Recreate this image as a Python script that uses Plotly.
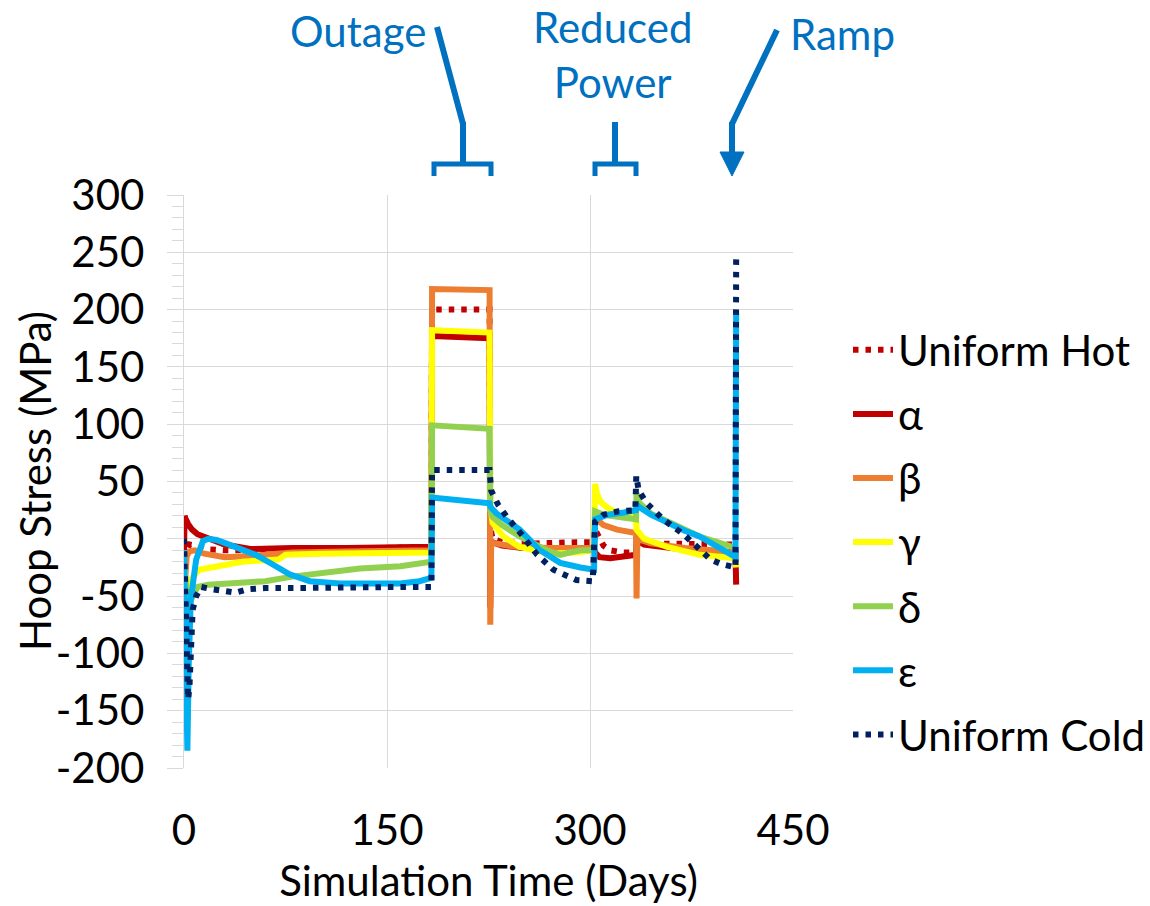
import plotly.graph_objects as go

# ---- Hoop stress histories (days, MPa) ----
hot_t = [0, 1, 2, 4, 8, 15, 30, 60, 100, 150, 182.8, 183.3, 225.8, 226.3, 228, 235, 260, 290, 303, 303.8,
         306, 310, 315, 325, 334, 334.5, 340, 370, 400, 407.5, 408]
hot_v = [0, -20, -10, -5, -6, -9, -10, -10, -9, -8, -7, 200, 200, 10, 0, -3, -4, -3, -3, 8,
         2, -6, -10, -12, -12, -3, -4, -5, -5, -5, -5]

alpha_t = [0, 0.5, 1, 3, 6, 10, 18, 30, 50, 80, 120, 160, 182.8, 183.3, 225.8, 226.3, 226.8, 228, 235, 250,
           280, 303, 303.8, 307, 315, 325, 334, 334.5, 340, 360, 390, 407.5, 408]
alpha_v = [-10, 20, 18, 13, 8, 4, 0, -5, -9, -8, -8, -7, -7, 177, 175, -60, -2, -3, -6, -8,
           -8, -8, -12, -16, -17, -16, -14, -1, -5, -8, -10, -12, -40]

beta_t = [0, 1, 2, 4, 8, 15, 30, 50, 80, 120, 160, 182.8, 183.3, 225.8, 226.3, 227, 230, 245, 270, 303,
          303.8, 310, 320, 334, 334.4, 335, 345, 370, 400, 408]
beta_v = [-50, -30, -15, -11, -10, -13, -16, -15, -12, -11, -10, -10, 218, 217, -75, -3, -4, -7, -8, -8,
          18, 12, 8, 5, -52, 0, -4, -8, -11, -13]

gamma_t = [0, 1.5, 3, 5, 11, 23, 43, 70, 75, 100, 140, 182.8, 183.3, 225.8, 226.3, 228, 236, 248, 270, 290,
           303, 303.8, 305, 308, 313, 320, 334, 334.4, 340, 357, 381, 407.5, 408]
gamma_v = [-30, -65, -50, -36, -27, -24, -20, -18, -14, -13, -12, -12, 182, 180, 30, 14, 2, -7, -13, -12,
           -10, 48, 40, 32, 27, 23, 20, 8, 0, -7, -14, -17, -25]

delta_t = [0, 3, 6.4, 10, 18, 40, 60, 80, 100, 130, 160, 175, 182.8, 183.3, 225.8, 226.3, 228, 235, 248, 268,
           278, 285, 293, 303, 303.8, 310, 320, 334, 334.4, 336, 345, 357, 381, 407.5]
delta_v = [-20, -60, -50, -42, -40, -39, -37, -33, -30, -26, -24, -22, -20, 99, 96, 25, 19, 12, 2, -10,
           -14, -12, -10, -10, 24, 21, 19, 17, 40, 32, 22, 15, 2, -8]

eps_t = [0, 1, 2.5, 3.5, 5, 9, 14, 18, 24, 31, 42, 53, 65, 78, 93, 115, 160, 174, 182.8, 183.3, 225.8, 226.3,
         231, 248, 263, 278, 293, 303, 303.8, 313, 325, 334, 334.5, 336, 345, 357, 370, 381, 395, 407.5, 408]
eps_v = [-10, -100, -185, -110, -53, -18, -2, 0, -1, -4, -9, -14, -22, -31, -37, -39, -39, -37, -34, 36, 31, 28,
         22, 8, -10, -21, -25, -27, 17, 21, 23, 25, 30, 28, 21, 14, 7, 2, -7, -16, 197]

cold_t = [0, 1, 2, 3, 4, 5, 6.4, 9, 12.6, 21, 30, 38, 47, 60, 80, 120, 160, 182.8, 183.3, 225.8,
          226.3, 227, 232, 238.6, 250, 261, 273, 290, 302, 303.8, 310, 321, 333.5, 334.2, 336, 342, 354, 369,
          380, 389, 397, 407.5, 408]
cold_v = [0, -40, -90, -140, -130, -100, -62, -50, -42, -44, -46, -47, -44, -43, -43, -42, -42, -42, 60, 60,
          50, 42, 30, 19, 3, -14, -27, -36, -37, 15, 21, 24, 25, 55, 42, 31, 17, 4,
          -8, -18, -22, -25, 248]

series_names = ["Uniform Hot", "α", "β", "γ", "δ", "ε", "Uniform Cold"]
series_t = [hot_t, alpha_t, beta_t, gamma_t, delta_t, eps_t, cold_t]
series_v = [hot_v, alpha_v, beta_v, gamma_v, delta_v, eps_v, cold_v]
series_colors = ["#C00000", "#C00000", "#ED7D31", "#FFFF00", "#92D050", "#00B0F0", "#002060"]
series_dotted = [True, False, False, False, False, False, True]

y_ticks = [-200, -150, -100, -50, 0, 50, 100, 150, 200, 250, 300]
y_ticktext = ["-200", "-150", "-100", "-50", "0", "50", "100", "150", "200", "250", "300"]
x_ticks = [0, 150, 300, 450]
x_ticktext = ["0", "150", "300", "450"]

FONT = "Lato"
FS = 42
BLUE = "#0070C0"
GRID = "#D9D9D9"

# plot-area edges in pixels
W, H = 1150, 906
L, R, T, B = 184, 793, 195, 768


def px(xp):
    return (xp - L) / (R - L)


def py(yp):
    return (B - yp) / (B - T)


fig = go.Figure()
for i, name in enumerate(series_names):
    dotted = series_dotted[i]
    fig.add_trace(go.Scatter(
        x=series_t[i], y=series_v[i], mode="lines", name=name,
        legendgroup=name,
        line=dict(color=series_colors[i], width=6,
                  dash="5.5px,7px" if dotted else "solid"),
        hoverinfo="x+y+name",
    ))

# event brackets and arrows above the plot
shapes = []
line_style = dict(color=BLUE, width=6)
# Outage
shapes.append(dict(type="line", xref="paper", yref="paper",
                   x0=px(437), y0=py(27), x1=px(463), y1=py(124), line=line_style))
shapes.append(dict(type="line", xref="paper", yref="paper",
                   x0=px(463), y0=py(122), x1=px(463), y1=py(165), line=line_style))
shapes.append(dict(type="path", xref="paper", yref="paper",
                   path=f"M {px(434)} {py(176)} L {px(434)} {py(164)} L {px(491)} {py(164)} L {px(491)} {py(176)}",
                   line=dict(color=BLUE, width=5)))
# Reduced power
shapes.append(dict(type="line", xref="paper", yref="paper",
                   x0=px(615), y0=py(122), x1=px(615), y1=py(165), line=line_style))
shapes.append(dict(type="path", xref="paper", yref="paper",
                   path=f"M {px(595)} {py(176)} L {px(595)} {py(164)} L {px(636)} {py(164)} L {px(636)} {py(176)}",
                   line=dict(color=BLUE, width=5)))
# Ramp arrow
shapes.append(dict(type="line", xref="paper", yref="paper",
                   x0=px(777), y0=py(30), x1=px(732), y1=py(124), line=line_style))
shapes.append(dict(type="line", xref="paper", yref="paper",
                   x0=px(732), y0=py(122), x1=px(732), y1=py(156), line=line_style))
shapes.append(dict(type="path", xref="paper", yref="paper",
                   path=f"M {px(720)} {py(152)} L {px(744)} {py(152)} L {px(732)} {py(176)} Z",
                   fillcolor=BLUE, line=dict(color=BLUE, width=1)))


def label(text, xp, yp, color=BLUE, angle=0):
    return dict(text=text, x=px(xp), y=py(yp), xref="paper", yref="paper", showarrow=False,
                xanchor="center", yanchor="middle", textangle=angle,
                font=dict(family=FONT, size=FS, color=color))


annotations = [
    label("Outage", 358, 31),
    label("Reduced<br>Power", 612, 55),
    label("Ramp", 843, 34),
    label("Hoop Stress (MPa)", 35, 481, color="black", angle=-90),
]

fig.update_layout(
    width=W, height=H,
    margin=dict(l=L, r=W - R, t=T, b=H - B, autoexpand=False),
    paper_bgcolor="white", plot_bgcolor="white",
    font=dict(family=FONT, size=FS, color="black"),
    shapes=shapes, annotations=annotations,
    showlegend=True,
    legend=dict(x=px(848), y=py(316), xanchor="left", yanchor="top",
                font=dict(family=FONT, size=FS), tracegroupgap=6.5,
                bgcolor="rgba(0,0,0,0)", itemwidth=40),
    xaxis=dict(range=[0, 450], tickvals=x_ticks, ticktext=x_ticktext,
               showgrid=True, gridcolor=GRID, gridwidth=1.3, zeroline=False,
               showline=False, ticks="", ticklabelstandoff=34,
               title=dict(text="Simulation Time (Days)", standoff=13,
                          font=dict(family=FONT, size=FS)),
               automargin=False),
    xaxis2=dict(range=[0, 450], overlaying="x", anchor="free", position=0.4, side="bottom",
                showgrid=False, zeroline=False, showline=True, linecolor=GRID, linewidth=1.3,
                ticks="outside", tick0=0, dtick=30, ticklen=9, tickcolor=GRID, tickwidth=1.3,
                showticklabels=False),
    yaxis=dict(range=[-200, 300], tickvals=y_ticks, ticktext=y_ticktext,
               showgrid=True, gridcolor=GRID, gridwidth=1.3, zeroline=False,
               showline=True, linecolor=GRID, linewidth=1.3,
               ticks="outside", ticklen=16, tickcolor=GRID, tickwidth=1.3,
               minor=dict(tick0=0, dtick=10, ticks="outside", ticklen=11, tickcolor=GRID,
                          tickwidth=1.3, showgrid=False),
               ticklabelstandoff=14, automargin=False),
)

fig.write_html("out.html")
